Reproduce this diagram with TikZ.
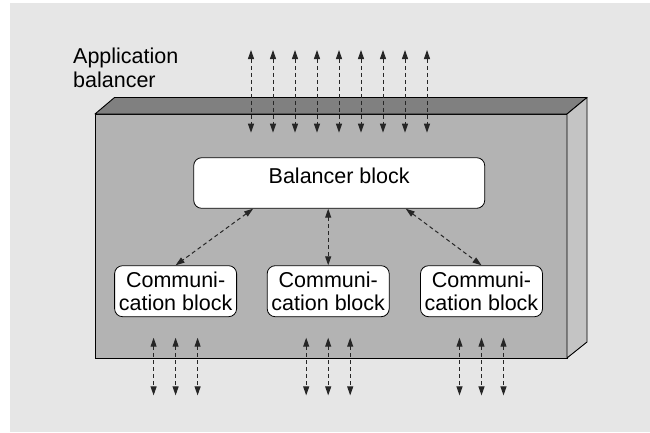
\documentclass[tikz,border=0pt]{standalone}
\usepackage{fontspec}
\setmainfont{Liberation Sans}
\usetikzlibrary{arrows.meta,calc}
\definecolor{bggray}{HTML}{E6E6E6}
\definecolor{frontgray}{HTML}{B3B3B3}
\definecolor{topgray}{HTML}{808080}
\definecolor{sidegray}{HTML}{C4C4C4}
\begin{document}
\begin{tikzpicture}[x=1pt,y=-1pt,
  txt/.style={font=\fontsize{21.5}{22.4}\selectfont},
  link/.style={draw=black!85, line width=1pt, dash pattern=on 4pt off 3pt,
    {Triangle[length=9pt,width=6pt]}-{Triangle[length=9pt,width=6pt]}},
  blockbox/.style={txt, draw=black, line width=0.8pt, fill=white,
    rounded corners=8pt, inner sep=0pt}]
\useasboundingbox (0,0) rectangle (650,432);
% backdrop
\fill[white] (0,0) rectangle (650,432);
\fill[bggray] (10,3) rectangle (650,432);
% the balancer housing: front, top and side faces
\filldraw[fill=frontgray, line width=0.9pt] (95,114) rectangle (567,358);
\filldraw[fill=topgray, line width=0.9pt, line join=round]
  (95,114) -- (114.5,97.5) -- (587,97.5) -- (567,114) -- cycle;
\filldraw[fill=sidegray, line width=0.9pt, line join=round]
  (567,114) -- (587,97.5) -- (587,342) -- (567,358) -- cycle;
% caption
\node[txt, font=\fontsize{21.5}{23.4}\selectfont, align=left, anchor=north west, inner sep=0pt]
  (cap) at (73,48) {Application\\balancer};
% blocks
\node[blockbox, minimum width=291pt, minimum height=50.6pt, text height=8pt, text depth=8pt]
  (bal) at (339.2,183) {Balancer block};
\node[blockbox, align=center, minimum width=122pt, minimum height=51pt]
  (c1) at (175.6,291.2) {Communi-\\cation block};
\node[blockbox, align=center, minimum width=122pt, minimum height=51pt]
  (c2) at (328.2,291.2) {Communi-\\cation block};
\node[blockbox, align=center, minimum width=122pt, minimum height=51pt]
  (c3) at (481.5,291.2) {Communi-\\cation block};
% external links on top
\foreach \i in {0,...,8}{
  \coordinate (tu\i) at (251+22*\i,50);
  \coordinate (td\i) at (251+22*\i,132.7);
  \draw[link] (tu\i) -- (td\i);
}
% balancer to communication blocks
\draw[link] ($(bal.south west)!0.205!(bal.south east)$) -- (c1.north);
\draw[link] (c2.north |- bal.south) -- (c2.north);
\draw[link] ($(bal.south west)!0.728!(bal.south east)$) -- (c3.north);
% external links below each communication block
\foreach \c in {c1,c2,c3}{
  \foreach \o [count=\k] in {-22,0,22}{
    \coordinate (\c u\k) at ($(\c.south)+(\o,20.6)$);
    \coordinate (\c d\k) at ($(\c.south)+(\o,78.3)$);
    \draw[link] (\c u\k) -- (\c d\k);
  }
}
\end{tikzpicture}
\end{document}
